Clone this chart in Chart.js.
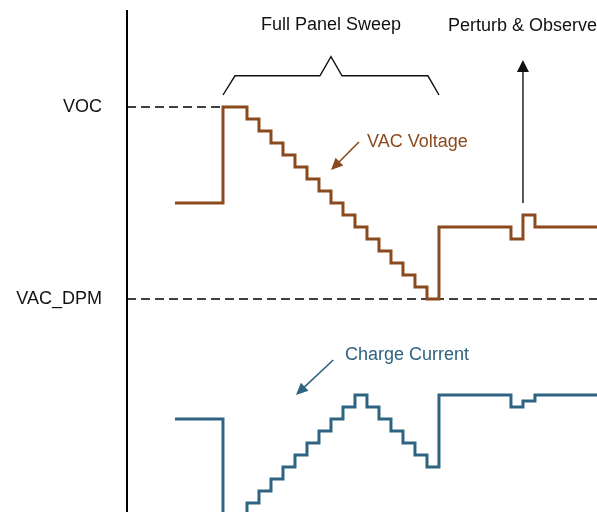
<!DOCTYPE html>
<html>
<head>
<meta charset="utf-8">
<script src="https://cdn.jsdelivr.net/npm/chart.js@4.4.1/dist/chart.umd.min.js"></script>
<style>
  html, body { margin: 0; padding: 0; background: #fff; }
  #wrap { width: 597px; height: 512px; }
</style>
</head>
<body>
<div id="wrap"><canvas id="mpptChart"></canvas></div>
<script>
// time of each level change, in sweep steps
var stepTimes = [4, 8, 10, 11, 12, 13, 14, 15, 16, 17, 18, 19, 20, 21, 22, 23, 24, 25, 26, 32, 33, 34, 40];
// VAC voltage level after each change (0 = VAC_DPM, 16 = VOC)
var voltageLevels = [8, 16, 15, 14, 13, 12, 11, 10, 9, 8, 7, 6, 5, 4, 3, 2, 1, 0, 6, 5, 7, 6, 6];
// charge current level after each change (same units, drawn below)
var currentLevels = [-10, -19, -17, -16, -15, -14, -13, -12, -11, -10, -9, -8, -9, -10, -11, -12, -13, -14, -8, -9, -8.5, -8, -8];
var levelTicks = [0, 16];
var levelLabels = ["VAC_DPM", "VOC"];

var BROWN = "#8b4a1e";
var BLUE = "#2e6482";
var FONT = '18px "Liberation Sans", Arial, Helvetica, sans-serif';

function toPoints(times, levels) {
  return times.map(function (t, i) { return { x: t, y: levels[i] }; });
}

var annotations = {
  id: "annotations",
  afterDraw: function (chart) {
    var ctx = chart.ctx;
    var xs = chart.scales.x, ys = chart.scales.y;
    function X(v) { return xs.getPixelForValue(v); }
    function Y(v) { return ys.getPixelForValue(v); }

    function arrow(x1, y1, x2, y2, color, width, head, headW) {
      var a = Math.atan2(y2 - y1, x2 - x1);
      ctx.save();
      ctx.strokeStyle = color;
      ctx.fillStyle = color;
      ctx.lineWidth = width;
      ctx.beginPath();
      ctx.moveTo(x1, y1);
      ctx.lineTo(x2 - Math.cos(a) * head * 0.8, y2 - Math.sin(a) * head * 0.8);
      ctx.stroke();
      ctx.beginPath();
      ctx.moveTo(x2, y2);
      ctx.lineTo(x2 - Math.cos(a) * head + Math.sin(a) * headW / 2, y2 - Math.sin(a) * head - Math.cos(a) * headW / 2);
      ctx.lineTo(x2 - Math.cos(a) * head - Math.sin(a) * headW / 2, y2 - Math.sin(a) * head + Math.cos(a) * headW / 2);
      ctx.closePath();
      ctx.fill();
      ctx.restore();
    }

    ctx.save();
    ctx.font = FONT;
    ctx.textBaseline = "middle";

    // brace over the sweep
    ctx.strokeStyle = "#111";
    ctx.lineWidth = 1.4;
    ctx.beginPath();
    ctx.moveTo(X(8), Y(17));
    ctx.lineTo(X(9), Y(18.6));
    ctx.lineTo(X(16.08), Y(18.6));
    ctx.lineTo(X(17), Y(20.2));
    ctx.lineTo(X(17.92), Y(18.6));
    ctx.lineTo(X(25.08), Y(18.6));
    ctx.lineTo(X(26), Y(17));
    ctx.stroke();

    ctx.fillStyle = "#111";
    ctx.textAlign = "center";
    ctx.fillText("Full Panel Sweep", X(17), Y(22.83));
    ctx.textAlign = "left";
    ctx.fillText("Perturb & Observe", X(26.75), Y(22.75));

    ctx.fillStyle = BROWN;
    ctx.fillText("VAC Voltage", X(20), Y(13.08));
    ctx.fillStyle = BLUE;
    ctx.fillText("Charge Current", X(18.17), Y(-4.67));
    ctx.restore();

    arrow(X(33), Y(8), X(33), Y(19.92), "#111", 1.4, 12, 12);
    arrow(X(19.33), Y(13.08), X(17), Y(10.75), BROWN, 1.6, 12, 11);
    arrow(X(17.19), Y(-5.08), X(14.08), Y(-8), BLUE, 1.6, 12, 11);
  }
};

var ctx = document.getElementById("mpptChart").getContext("2d");
var mpptChart = new Chart(ctx, {
  type: "line",
  data: {
    datasets: [
      {
        label: "VAC Voltage",
        data: toPoints(stepTimes, voltageLevels),
        borderColor: BROWN,
        borderWidth: 3,
        stepped: true,
        pointRadius: 0,
        borderJoinStyle: "miter",
        fill: false,
      },
      {
        label: "Charge Current",
        data: toPoints(stepTimes, currentLevels),
        borderColor: BLUE,
        borderWidth: 3,
        stepped: true,
        pointRadius: 0,
        borderJoinStyle: "miter",
        fill: false,
      },
      {
        label: "VOC",
        data: [{ x: 0, y: levelTicks[1] }, { x: 8, y: levelTicks[1] }],
        borderColor: "#000",
        borderWidth: 1.5,
        borderDash: [9, 5],
        pointRadius: 0,
      },
      {
        label: "VAC_DPM",
        data: [{ x: 0, y: levelTicks[0] }, { x: 40, y: levelTicks[0] }],
        borderColor: "#000",
        borderWidth: 1.5,
        borderDash: [9, 5],
        pointRadius: 0,
      },
    ],
  },
  options: {
    responsive: true,
    maintainAspectRatio: false,
    animation: false,
    layout: { padding: { top: 11, left: 0, right: 0, bottom: 0 } },
    plugins: { legend: { display: false }, tooltip: { enabled: false } },
    scales: {
      x: { type: "linear", min: 0, max: 39.17, display: false },
      y: {
        type: "linear",
        min: -17.75,
        max: 24,
        afterFit: function (scale) {
          scale.width = 127;
          scale.paddingTop = 0;
          scale.paddingBottom = 0;
        },
        afterBuildTicks: function (scale) {
          scale.ticks = levelTicks.map(function (v) { return { value: v }; });
        },
        grid: { display: false, drawTicks: false },
        border: { display: true, color: "#000", width: 2 },
        ticks: {
          padding: 25,
          color: "#111",
          font: { family: '"Liberation Sans", Arial, Helvetica, sans-serif', size: 18 },
          callback: function (v) { return levelLabels[levelTicks.indexOf(v)]; },
        },
      },
    },
  },
  plugins: [annotations],
});
</script>
</body>
</html>
